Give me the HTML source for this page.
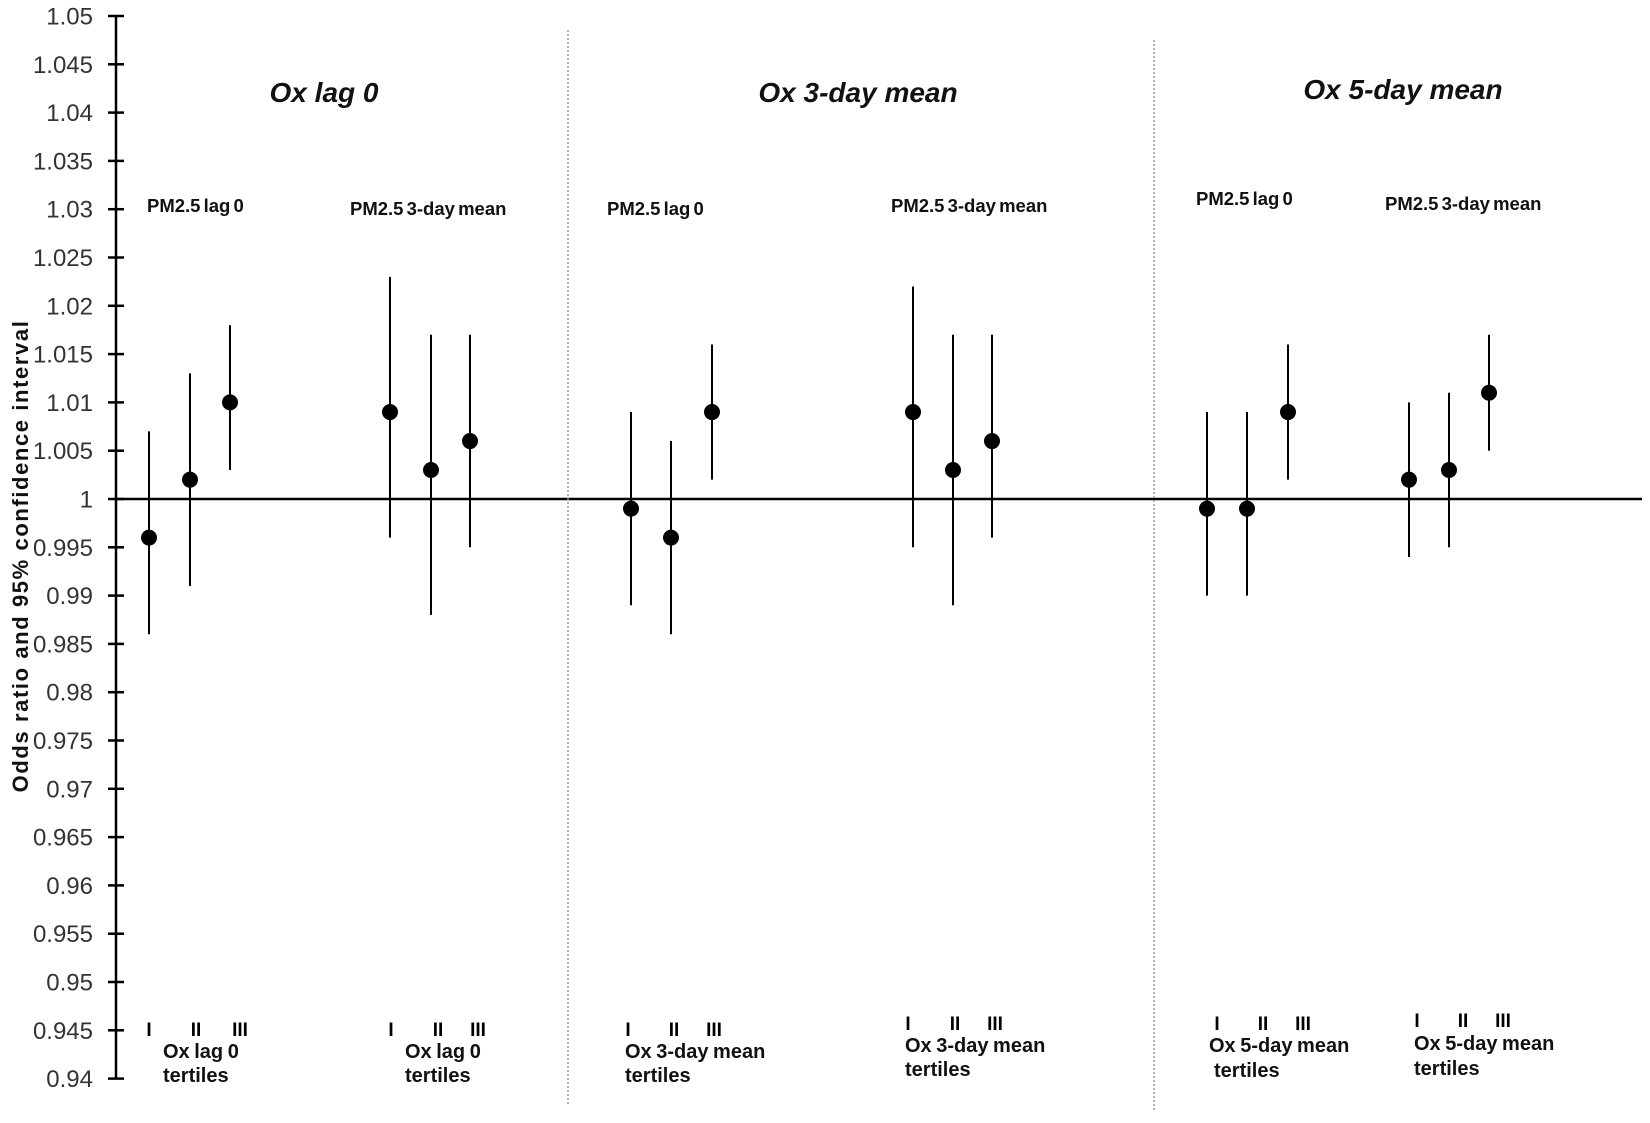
<!DOCTYPE html>
<html><head><style>html,body{margin:0;padding:0;background:#fff}</style></head>
<body>
<svg width="1650" height="1118" xmlns="http://www.w3.org/2000/svg" font-family="Liberation Sans, Arial, sans-serif">
<rect width="1650" height="1118" fill="#fff"/>
<g id="axis" stroke="#000" stroke-width="2.5">
<line x1="116" y1="16" x2="116" y2="1079"/>
<line x1="116" y1="499" x2="1642" y2="499"/>
</g>
<g id="ticks"></g>
<g stroke="#999" stroke-width="1.5" stroke-dasharray="2,2">
<line x1="568" y1="30" x2="568" y2="1105"/>
<line x1="1154" y1="40" x2="1154" y2="1110"/>
</g>
<g id="data"></g>
<g font-weight="bold" font-style="italic" font-size="28" text-anchor="middle" fill="#111">
<text x="324" y="102">Ox lag 0</text>
<text x="858" y="102">Ox 3-day mean</text>
<text x="1403" y="99">Ox 5-day mean</text>
</g>
<g font-weight="bold" font-size="18.5" word-spacing="-2" fill="#111">
<text x="147" y="212">PM2.5 lag 0</text>
<text x="350" y="215">PM2.5 3-day mean</text>
<text x="607" y="215">PM2.5 lag 0</text>
<text x="891" y="212">PM2.5 3-day mean</text>
<text x="1196" y="205">PM2.5 lag 0</text>
<text x="1385" y="210">PM2.5 3-day mean</text>
</g>
<g font-weight="bold" font-size="19" text-anchor="middle">
<text x="149" y="1036">I</text><text x="196" y="1036">II</text><text x="240" y="1036">III</text>
<text x="391" y="1036">I</text><text x="438" y="1036">II</text><text x="478" y="1036">III</text>
<text x="628" y="1036">I</text><text x="674" y="1036">II</text><text x="714" y="1036">III</text>
<text x="908" y="1030">I</text><text x="955" y="1030">II</text><text x="995" y="1030">III</text>
<text x="1217" y="1030">I</text><text x="1263" y="1030">II</text><text x="1303" y="1030">III</text>
<text x="1417" y="1027">I</text><text x="1463" y="1027">II</text><text x="1503" y="1027">III</text>
</g>
<g font-size="20" font-weight="bold" fill="#111" word-spacing="-1">
<text x="163" y="1058">Ox lag 0</text><text x="163" y="1082">tertiles</text>
<text x="405" y="1058">Ox lag 0</text><text x="405" y="1082">tertiles</text>
<text x="625" y="1058">Ox 3-day mean</text><text x="625" y="1082">tertiles</text>
<text x="905" y="1052">Ox 3-day mean</text><text x="905" y="1076">tertiles</text>
<text x="1209" y="1052">Ox 5-day mean</text><text x="1214" y="1077">tertiles</text>
<text x="1414" y="1050">Ox 5-day mean</text><text x="1414" y="1075">tertiles</text>
</g>
<text transform="translate(28,556) rotate(-90)" text-anchor="middle" font-weight="bold" font-size="22" letter-spacing="1.6" fill="#111">Odds ratio and 95% confidence interval</text>
<script>
var ns="http://www.w3.org/2000/svg";
function Y(v){return 499-(v-1)/0.005*48.3;}
var t=document.getElementById("ticks");
for(var i=0;i<=22;i++){var v=1.05-i*0.005;var y=Y(v);
var l=document.createElementNS(ns,"line");l.setAttribute("x1",108);l.setAttribute("x2",124);l.setAttribute("y1",y);l.setAttribute("y2",y);l.setAttribute("stroke","#000");l.setAttribute("stroke-width","2.5");t.appendChild(l);
var tx=document.createElementNS(ns,"text");tx.setAttribute("x",93);tx.setAttribute("y",y+8.5);tx.setAttribute("text-anchor","end");tx.setAttribute("font-size","24");tx.setAttribute("fill","#333");
tx.textContent=String(Math.round(v*1000)/1000);t.appendChild(tx);}
var d=[[149,.996,.986,1.007],[190,1.002,.991,1.013],[230,1.010,1.003,1.018],[390,1.009,.996,1.023],[431,1.003,.988,1.017],[470,1.006,.995,1.017],
[631,.999,.989,1.009],[671,.996,.986,1.006],[712,1.009,1.002,1.016],[913,1.009,.995,1.022],[953,1.003,.989,1.017],[992,1.006,.996,1.017],
[1207,.999,.990,1.009],[1247,.999,.990,1.009],[1288,1.009,1.002,1.016],[1409,1.002,.994,1.010],[1449,1.003,.995,1.011],[1489,1.011,1.005,1.017]];
var g=document.getElementById("data");
d.forEach(function(p){var l=document.createElementNS(ns,"line");l.setAttribute("x1",p[0]);l.setAttribute("x2",p[0]);l.setAttribute("y1",Y(p[2]));l.setAttribute("y2",Y(p[3]));l.setAttribute("stroke","#000");l.setAttribute("stroke-width","2");g.appendChild(l);
var c=document.createElementNS(ns,"circle");c.setAttribute("cx",p[0]);c.setAttribute("cy",Y(p[1]));c.setAttribute("r",8);g.appendChild(c);});
</script>
</svg>
</body></html>
